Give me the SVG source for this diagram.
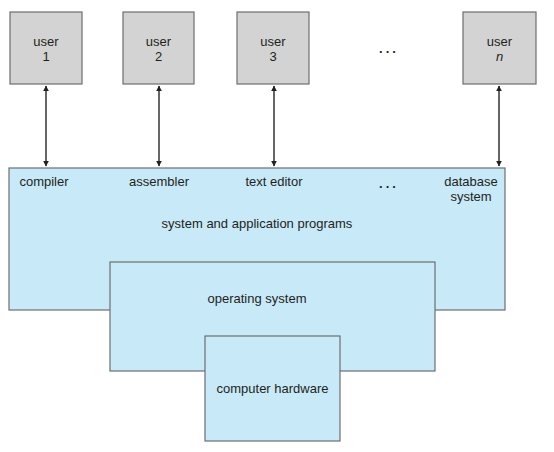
<svg xmlns="http://www.w3.org/2000/svg" width="554" height="452" viewBox="0 0 554 452">
<defs>
<style>
.user{fill:#d3d3d3;stroke:#6d6e71;stroke-width:1.2}
.layer{fill:#c8e9f8;stroke:#6d6e71;stroke-width:1.2}
text{font-family:"Liberation Sans",Arial,sans-serif;font-size:13px;fill:#231f20;text-anchor:middle}
.dots{font-weight:bold;letter-spacing:3px}
.conn{stroke:#333333;stroke-width:1.5;fill:none;marker-start:url(#ah);marker-end:url(#ah)}
</style>
<marker id="ah" viewBox="0 0 10 10" refX="9" refY="5" markerWidth="6" markerHeight="6" orient="auto-start-reverse" markerUnits="userSpaceOnUse">
<path d="M0,0 L10,5 L0,10 z" fill="#231f20"/>
</marker>
</defs>
<rect width="554" height="452" fill="#ffffff"/>
<g id="user1"><rect class="user" x="10" y="12" width="72" height="72"/><text x="46" y="46">user</text><text x="46" y="61">1</text></g>
<g id="user2"><rect class="user" x="123" y="12" width="71" height="72"/><text x="158.5" y="46">user</text><text x="158.5" y="61">2</text></g>
<g id="user3"><rect class="user" x="237" y="12" width="72" height="72"/><text x="273" y="46">user</text><text x="273" y="61">3</text></g>
<g id="dots-users"><text class="dots" x="389" y="53">...</text></g>
<g id="usern"><rect class="user" x="463" y="12" width="73" height="72"/><text x="499.5" y="46">user</text><text x="499.5" y="61" font-style="italic">n</text></g>
<g id="connectors">
<line class="conn" x1="46" y1="86" x2="46" y2="166"/>
<line class="conn" x1="159" y1="86" x2="159" y2="166"/>
<line class="conn" x1="274" y1="86" x2="274" y2="166"/>
<line class="conn" x1="499" y1="86" x2="499" y2="166"/>
</g>
<g id="programs">
<rect class="layer" x="9" y="168" width="496" height="142"/>
<text x="44" y="186">compiler</text>
<text x="159" y="186">assembler</text>
<text x="274" y="186">text editor</text>
<text class="dots" x="389" y="188">...</text>
<text x="471" y="186">database</text>
<text x="471" y="201">system</text>
<text x="257" y="228">system and application programs</text>
</g>
<g id="os">
<rect class="layer" x="110" y="262" width="325" height="109"/>
<text x="257" y="303">operating system</text>
</g>
<g id="hardware">
<rect class="layer" x="205" y="336" width="135" height="105"/>
<text x="272.5" y="393">computer hardware</text>
</g>
</svg>
